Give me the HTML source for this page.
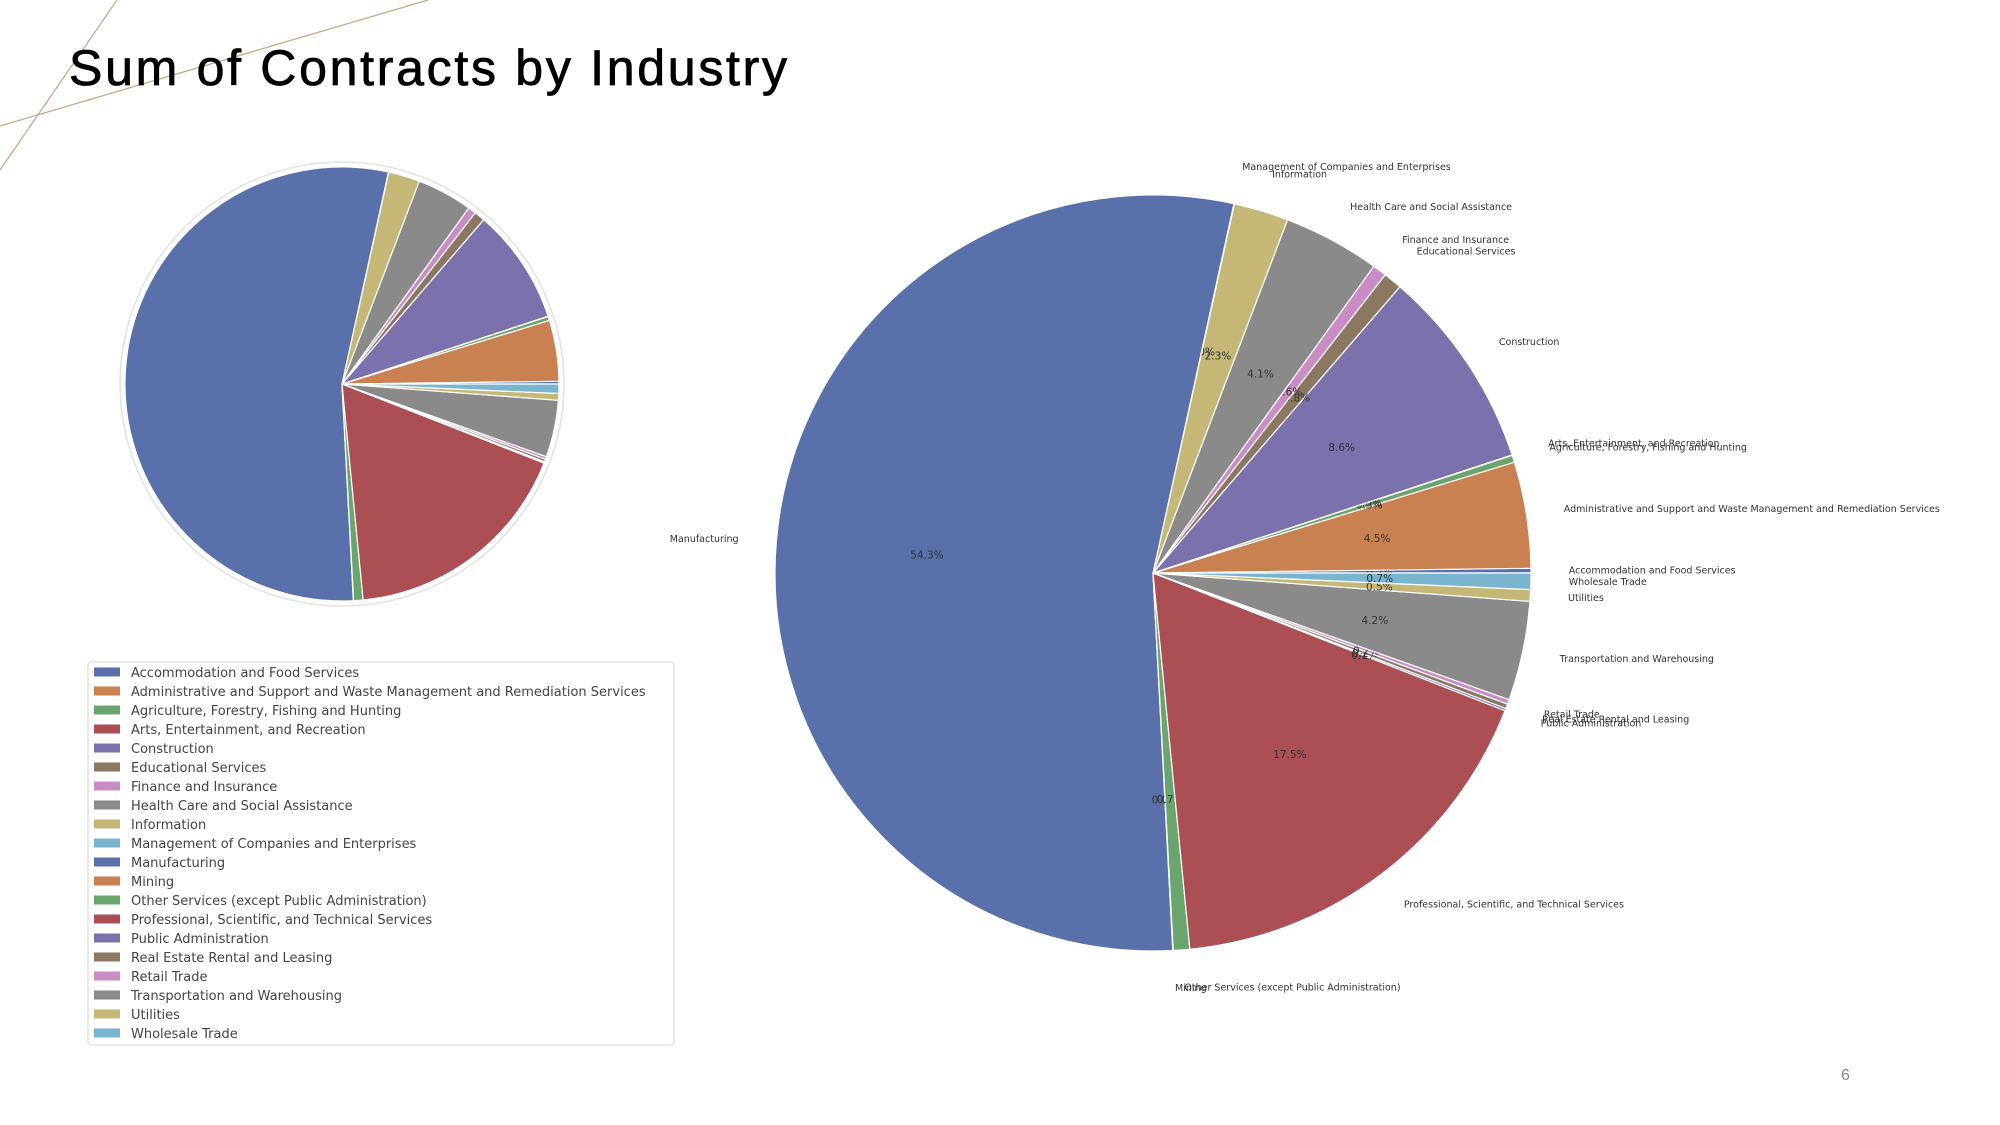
<!DOCTYPE html>
<html><head><meta charset="utf-8">
<style>
html,body{margin:0;padding:0;background:#fff;}
body{width:2000px;height:1125px;overflow:hidden;position:relative;font-family:"DejaVu Sans","Liberation Sans",sans-serif;}
svg{position:absolute;left:0;top:0;}
</style></head>
<body>
<svg id="chart" width="2000" height="1125" viewBox="0 0 2000 1125">
  <line x1="0" y1="126" x2="428" y2="0" stroke="#c9a987" stroke-width="1.3"/>
  <line x1="0" y1="170" x2="117" y2="0" stroke="#c9a987" stroke-width="1.3"/>
  <text x="69" y="85" font-family="Liberation Sans, sans-serif" font-size="50" fill="#000" stroke="#000" stroke-width="0.8" textLength="718">Sum of Contracts by Industry</text>
  <g id="small-pie"></g>
  <g id="big-pie"></g>
  <g id="legend"></g>
  <text x="1841" y="1080" font-family="Liberation Sans, sans-serif" font-size="16" fill="#888">6</text>
</svg>
<script>
const categories = ["Accommodation and Food Services","Administrative and Support and Waste Management and Remediation Services","Agriculture, Forestry, Fishing and Hunting","Arts, Entertainment, and Recreation","Construction","Educational Services","Finance and Insurance","Health Care and Social Assistance","Information","Management of Companies and Enterprises","Manufacturing","Mining","Other Services (except Public Administration)","Professional, Scientific, and Technical Services","Public Administration","Real Estate Rental and Leasing","Retail Trade","Transportation and Warehousing","Utilities","Wholesale Trade"];
const values = [0.2,4.54,0.3,0.02,8.62,0.8,0.6,4.14,2.34,0.02,54.3,0.02,0.7,17.52,0.1,0.2,0.2,4.24,0.5,0.7];
const palette = ["#5970ab","#c98152","#6aa56d","#ab4f55","#7b71ad","#8a7860","#c98cc5","#8a8a8a","#c5b877","#7ab5d0"];
const NS="http://www.w3.org/2000/svg";
const total = values.reduce((a,b)=>a+b,0);
function mk(tag,attrs,parent){const e=document.createElementNS(NS,tag);for(const k in attrs)e.setAttribute(k,attrs[k]);parent.appendChild(e);return e;}
function pt(cx,cy,r,deg){const a=deg*Math.PI/180;return [cx+r*Math.cos(a),cy-r*Math.sin(a)];}
function wedge(cx,cy,r,a0,a1){const p0=pt(cx,cy,r,a0),p1=pt(cx,cy,r,a1);const large=(a1-a0)>180?1:0;
 return `M${cx},${cy} L${p0[0]},${p0[1]} A${r},${r} 0 ${large} 0 ${p1[0]},${p1[1]} Z`;}
function drawPie(g,cx,cy,r,labels){
  let acc=0;
  values.forEach((v,i)=>{
    const a0=acc/total*360, a1=(acc+v)/total*360; acc+=v;
    const p=mk('path',{d:wedge(cx,cy,r,a0,a1),fill:palette[i%10],stroke:'#fff','stroke-width':1.2},g);
    
    
    if(labels){
      const mid=(a0+a1)/2;
      const lp=pt(cx,cy,r*1.1,mid);
      const t=mk('text',{x:lp[0],y:lp[1]+3,'font-size':9.5,fill:'#333','text-anchor':lp[0]>=cx?'start':'end'},g);
      t.textContent=categories[i];
      
      
      const pp=pt(cx,cy,r*0.6,mid);
      const q=mk('text',{x:pp[0],y:pp[1]+4,'font-size':10.5,fill:'#333','text-anchor':'middle'},g);
      q.textContent=(v/total*100).toFixed(1)+'%';
      
      
    }
  });
}
const sg=document.getElementById('small-pie');
const ring=mk('circle',{cx:342,cy:384,r:222,fill:'none',stroke:'#e2e2e2','stroke-width':1.5},sg);


drawPie(sg,342,384,217,false);
drawPie(document.getElementById('big-pie'),1153,573,378,true);
const lg=document.getElementById('legend');
const box=mk('rect',{x:88,y:662,width:586,height:383,rx:3,fill:'#fff',stroke:'#ddd','stroke-width':1.2},lg);


categories.forEach((c,i)=>{
  const y=672+i*19;
  const s=mk('rect',{x:94,y:y-4.5,width:26,height:9,fill:palette[i%10]},lg);
  
  
  const t=mk('text',{x:131,y:y+5,'font-size':13,fill:'#444'},lg);
  t.textContent=c;
  
  
});
</script>
</body></html>
